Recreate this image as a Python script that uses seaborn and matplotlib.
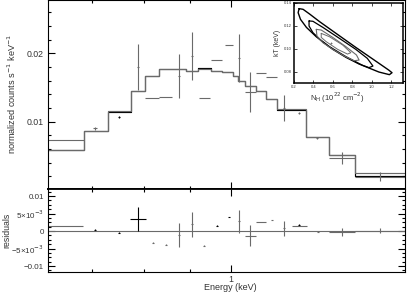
import numpy as np
import pandas as pd
import matplotlib
matplotlib.use("Agg")
import matplotlib.pyplot as plt
from matplotlib.ticker import FixedLocator, NullFormatter, FixedFormatter, MultipleLocator
import seaborn as sns

# ---------------- data ----------------
# model histogram (keV bin edges, normalized counts s^-1 keV^-1)
model_edges = [0.6245, 0.685, 0.729, 0.773, 0.801, 0.831, 0.891, 0.919, 0.950,
               0.977, 1.005, 1.018, 1.037, 1.066, 1.094, 1.126, 1.213, 1.287,
               1.375, 1.565]
model_gray = [0.00587, 0.00870, 0.01150, 0.01451, 0.01671, 0.01773, 0.01748,
              0.01765, 0.01744, 0.01725, 0.01671, 0.01597, 0.01529, 0.01451,
              0.01334, 0.01180, 0.00778, 0.00507, 0.00250]
model_black = [0.00587, 0.00870, 0.01135, 0.01451, 0.01671, 0.01773, 0.01748,
               0.01780, 0.01744, 0.01725, 0.01671, 0.01597, 0.01529, 0.01451,
               0.01334, 0.01165, 0.00778, 0.00507, 0.00206]

# spectrum data points
data_lo = [0.6245, 0.701, 0.748, 0.785, 0.801, 0.831, 0.872, 0.902, 0.921, 0.950,
           0.985, 1.018, 1.037, 1.066, 1.094, 1.143, 1.188, 1.245, 1.287, 1.375]
data_hi = [0.685, 0.708, 0.751, 0.789, 0.831, 0.859, 0.877, 0.907, 0.947, 0.977,
           1.005, 1.023, 1.066, 1.094, 1.126, 1.149, 1.194, 1.251, 1.375, 1.565]
data_val = [0.00734, 0.00902, 0.01070, 0.01802, 0.01348, 0.01363, 0.01671, 0.01964,
            0.01348, 0.01898, 0.02124, 0.01934, 0.01436, 0.01714, 0.01649, 0.01202,
            0.01129, 0.00763, 0.00470, 0.00199]
data_err = [0.0, 0.0002, 0.0001, 0.00337, 0.0, 0.0, 0.00322, 0.00351, 0.0, 0.0,
            0.0, 0.00351, 0.00293, 0.0, 0.0, 0.0019, 0.0001, 0.0001, 0.00088, 0.00059]
data_col = ["g", "g", "k", "g", "g", "g", "g", "g", "g", "g",
            "g", "g", "g", "g", "g", "g", "g", "g", "g", "g"]

# residuals
res_lo = [0.6245, 0.703, 0.748, 0.771, 0.816, 0.844, 0.872, 0.902, 0.931, 0.963, 0.993,
          1.019, 1.037, 1.066, 1.109, 1.144, 1.170, 1.189, 1.249, 1.287, 1.375]
res_hi = [0.683, 0.707, 0.751, 0.803, 0.820, 0.848, 0.877, 0.907, 0.935, 0.967, 0.997,
          1.023, 1.066, 1.094, 1.113, 1.148, 1.216, 1.193, 1.253, 1.375, 1.565]
res_val = [0.0015, 0.0004, -0.0005, 0.0035, -0.0033, -0.0039, -0.00105, 0.0019, -0.0042,
           0.0015, 0.0040, 0.0028, -0.0013, 0.0026, 0.0032, 0.0008, 0.0015, 0.0018,
           -0.0002, -0.0002, 0.0001]
res_err = [0.0, 0.0001, 0.0001, 0.0034, 0.0001, 0.0001, 0.0034, 0.0035, 0.0001, 0.0001,
           0.0001, 0.0033, 0.0030, 0.0, 0.0001, 0.0021, 0.0, 0.0001, 0.0001, 0.0011, 0.0007]
res_col = ["g", "k", "k", "k", "g", "g", "g", "g", "g", "k", "k",
           "g", "g", "g", "g", "g", "g", "k", "g", "g", "g"]

# confidence contours (NH in 1e22 cm^-2, kT in keV)
c_outer_nh = [0.254, 0.295, 0.362, 0.464, 0.633, 0.836, 1.039, 1.174, 1.208, 1.181,
              1.073, 0.904, 0.735, 0.565, 0.430, 0.329, 0.268, 0.244]
c_outer_kt = [0.1348, 0.1342, 0.1301, 0.1235, 0.1133, 0.1011, 0.0893, 0.0814, 0.0791,
              0.0774, 0.0797, 0.0855, 0.0930, 0.1017, 0.1104, 0.1185, 0.1255, 0.1313]
c_mid_nh = [0.356, 0.396, 0.498, 0.667, 0.836, 0.954, 1.012, 0.971, 0.870, 0.735,
            0.599, 0.481, 0.396, 0.356]
c_mid_kt = [0.1241, 0.1238, 0.1185, 0.1090, 0.0994, 0.0916, 0.0849, 0.0835, 0.0866,
            0.0924, 0.0994, 0.1069, 0.1139, 0.1197]
c_in1_nh = [0.430, 0.481, 0.599, 0.735, 0.843, 0.870, 0.819, 0.718, 0.599, 0.498, 0.437]
c_in1_kt = [0.1168, 0.1162, 0.1098, 0.1017, 0.0945, 0.0901, 0.0895, 0.0936, 0.0994,
            0.1052, 0.1110]
c_in2_nh = [0.481, 0.565, 0.701, 0.785, 0.751, 0.650, 0.532, 0.481]
c_in2_kt = [0.1133, 0.1104, 0.1032, 0.0965, 0.0953, 0.0994, 0.1061, 0.1098]
best_nh = [0.582]
best_kt = [0.1046]

# ---------------- style ----------------
sns.set_theme(style="ticks")
plt.rcParams["font.family"] = ["Liberation Sans", "DejaVu Sans"]
plt.rcParams["axes.linewidth"] = 0.8
TXT = "#333333"
GRAY = "#6a6a6a"
colmap = {"g": GRAY, "k": "black"}

fig = plt.figure(figsize=(4.07, 2.95), dpi=100)
ax = fig.add_axes([0.118, 0.359, 0.877, 0.641])
axr = fig.add_axes([0.118, 0.078, 0.877, 0.281], sharex=ax)
axi = fig.add_axes([0.722, 0.720, 0.268, 0.271])

xmin, xmax = 0.6245, 1.565


def step_df(edges, vals):
    return pd.DataFrame({"E": edges, "v": list(vals) + [vals[-1]]})


# model lines
sns.lineplot(data=step_df(model_edges, model_black), x="E", y="v", ax=ax,
             drawstyle="steps-post", color="black", lw=0.85, sort=False, estimator=None)
sns.lineplot(data=step_df(model_edges, model_gray), x="E", y="v", ax=ax,
             drawstyle="steps-post", color=GRAY, lw=0.85, sort=False, estimator=None)


def draw_points(a, lo, hi, val, err, cols):
    df = pd.DataFrame({"lo": lo, "hi": hi, "v": val, "e": err, "c": cols})
    df["x"] = np.sqrt(df["lo"] * df["hi"])
    for c, sub in df.groupby("c"):
        a.errorbar(sub["x"], sub["v"],
                   xerr=[sub["x"] - sub["lo"], sub["hi"] - sub["x"]],
                   yerr=sub["e"], fmt="none", ecolor=colmap[c],
                   elinewidth=0.8, capsize=0)


draw_points(ax, data_lo, data_hi, data_val, data_err, data_col)
axr.axhline(0, color=GRAY, lw=0.8)
draw_points(axr, res_lo, res_hi, res_val, res_err, res_col)

# axes settings
ax.set_xscale("log")
ax.set_xlim(xmin, xmax)
ax.set_ylim(0.00015, 0.0278)
axr.set_ylim(-0.0117, 0.012)

for a in (ax, axr):
    a.xaxis.set_major_locator(FixedLocator([1.0]))
    a.xaxis.set_minor_locator(FixedLocator([0.7, 0.8, 0.9]))
    a.xaxis.set_minor_formatter(NullFormatter())
    a.tick_params(which="both", direction="in", top=True, right=True,
                  colors="black", labelcolor=TXT, labelsize=6.3, width=0.8, pad=3)
    a.tick_params(which="major", length=5)
    a.tick_params(which="minor", length=2.5)
    a.set_xlabel("")
    a.set_ylabel("")

ax.xaxis.set_major_formatter(NullFormatter())
ax.tick_params(labelbottom=False)
axr.xaxis.set_major_formatter(FixedFormatter(["1"]))
axr.tick_params(axis="x", pad=2.5)
axr.tick_params(axis="y", labelsize=5.8, pad=3)

ax.yaxis.set_major_locator(FixedLocator([0.01, 0.02]))
ax.yaxis.set_major_formatter(FixedFormatter(["0.01", "0.02"]))
ax.yaxis.set_minor_locator(MultipleLocator(0.002))

axr.yaxis.set_major_locator(FixedLocator([-0.01, -0.005, 0, 0.005, 0.01]))
axr.yaxis.set_major_formatter(FixedFormatter(
    ["\u22120.01", "\u22125\u00d710$^{-3}$", "0", "5\u00d710$^{-3}$", "0.01"]))
axr.yaxis.set_minor_locator(MultipleLocator(0.00125))

for s in ax.spines.values():
    s.set_color("black")
for s in axr.spines.values():
    s.set_color("black")
ax.spines["bottom"].set_linewidth(1.3)
axr.spines["top"].set_linewidth(1.3)

fig.text(0.03, 0.68, "normalized counts s$^{-1}$ keV$^{-1}$", rotation=90,
         ha="center", va="center", fontsize=6.6, color=TXT)
fig.text(0.017, 0.218, "residuals", rotation=90, ha="center", va="center",
         fontsize=6.3, color=TXT)
fig.text(0.567, 0.024, "Energy (keV)", ha="center", va="center",
         fontsize=6.5, color=TXT)

# inset
axi.set_facecolor("white")
axi.plot(c_outer_nh + c_outer_nh[:1], c_outer_kt + c_outer_kt[:1], color="black", lw=1.0)
axi.plot(c_mid_nh + c_mid_nh[:1], c_mid_kt + c_mid_kt[:1], color="black", lw=0.9)
axi.plot(c_in1_nh + c_in1_nh[:1], c_in1_kt + c_in1_kt[:1], color=GRAY, lw=0.8)
axi.plot(c_in2_nh + c_in2_nh[:1], c_in2_kt + c_in2_kt[:1], color=GRAY, lw=0.7)
axi.plot(best_nh, best_kt, marker="+", ms=1.5, color=GRAY, lw=0, mew=0.6)
axi.set_xlim(0.2, 1.32)
axi.set_ylim(0.0705, 0.14)
axi.xaxis.set_major_locator(FixedLocator([0.2, 0.4, 0.6, 0.8, 1.0, 1.2]))
axi.xaxis.set_major_formatter(FixedFormatter(["0.2", "0.4", "0.6", "0.8", "1.0", "1.2"]))
axi.yaxis.set_major_locator(FixedLocator([0.08, 0.10, 0.12, 0.14]))
axi.yaxis.set_major_formatter(FixedFormatter(["0.08", "0.10", "0.12", "0.14"]))
axi.tick_params(which="both", direction="in", top=True, right=True, length=2,
                width=0.6, labelsize=3, labelcolor=TXT, pad=1.5)
for s in axi.spines.values():
    s.set_color("black")
    s.set_linewidth(1.1)
axi.set_ylabel("kT (keV)", fontsize=5, color=TXT, labelpad=2)
axi.set_xlabel("N$_{\\rm H}$ (10$^{22}$ cm$^{-2}$)", fontsize=5.5, color=TXT, labelpad=2)
axi.xaxis.set_label_coords(0.4, -0.1)

fig.savefig("out.png", dpi=100)
